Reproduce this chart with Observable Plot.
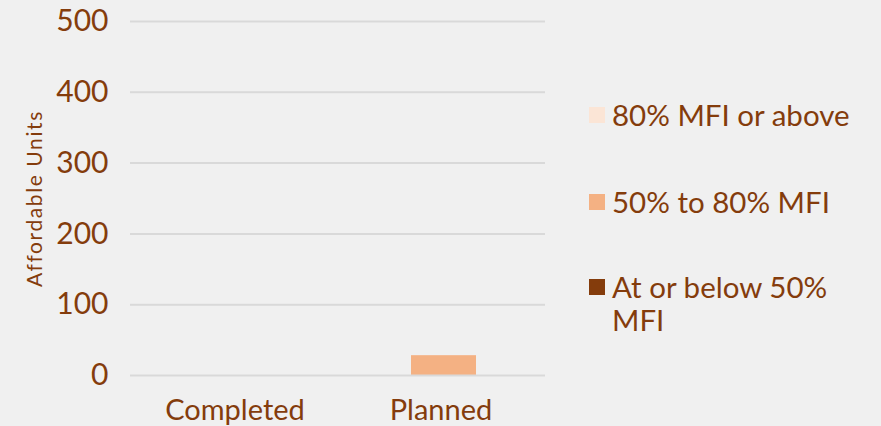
<!DOCTYPE html>
<html>
<head>
<meta charset="utf-8">
<script src="https://cdn.jsdelivr.net/npm/d3@7"></script>
<script src="https://cdn.jsdelivr.net/npm/@observablehq/plot@0.6"></script>
<style>
  html, body { margin: 0; padding: 0; background: #f0f0f0; }
  #wrap { position: relative; width: 881px; height: 426px; overflow: hidden; font-family: Lato, sans-serif; color: #843c0c; }
  #chart { position: absolute; left: 0; top: 0; }
  #chart svg g[aria-label="text"] text { letter-spacing: 1.6px; }
  #legend { position: absolute; left: 589px; top: 0; width: 290px; }
  .item { position: absolute; left: 0; display: flex; align-items: flex-start; font-size: 29.5px; line-height: 33px; }
  .sw { width: 16px; height: 16px; margin-top: 9px; margin-right: 7px; flex: none; }
</style>
</head>
<body>
<div id="wrap">
  <div id="chart"></div>
  <div id="legend"></div>
</div>
<script>
const categories = ["Completed", "Planned"];
const seriesNames = ["At or below 50% MFI", "50% to 80% MFI", "80% MFI or above"];
const seriesColors = ["#843c0c", "#f4b183", "#fbe5d6"];
const atOrBelow50 = [0, 0];
const from50to80 = [0, 28];
const above80 = [0, 0];
const yTicks = [0, 100, 200, 300, 400, 500];
const yLabel = "Affordable Units";
const legendOrder = ["80% MFI or above", "50% to 80% MFI", "At or below 50% MFI"];

const seriesValues = [atOrBelow50, from50to80, above80];
const data = [];
categories.forEach((c, i) => {
  seriesNames.forEach((s, j) => {
    data.push({category: c, series: s, value: seriesValues[j][i]});
  });
});

const brown = "#843c0c";
const plot = Plot.plot({
  width: 575,
  height: 426,
  marginLeft: 130,
  marginRight: 30,
  marginTop: 21,
  marginBottom: 51,
  style: {background: "transparent", fontFamily: "Lato, sans-serif", color: brown},
  x: {domain: categories, paddingInner: 0.685, paddingOuter: 0.347, align: 0.52, label: null},
  y: {domain: [0, 500], ticks: yTicks, label: null},
  color: {domain: seriesNames, range: seriesColors},
  marks: [
    Plot.ruleY(yTicks.filter(t => t > 0), {stroke: "#d9d9d9", strokeWidth: 2}),
    Plot.barY(data, {x: "category", y: "value", fill: "series", order: seriesNames}),
    Plot.ruleY([0], {stroke: "#d9d9d9", strokeWidth: 2}),
    Plot.axisY({ticks: yTicks, tickSize: 0, tickPadding: 22, fontSize: 30, fill: brown, label: null}),
    Plot.axisX({tickSize: 0, tickPadding: 24, fontSize: 29, fill: brown, label: null, dx: -3}),
    Plot.text([yLabel], {frameAnchor: "left", textAnchor: "middle", dx: -95, dy: 0, rotate: -90, fontSize: 21, fill: brown, text: d => d})
  ]
});
document.getElementById("chart").appendChild(plot);

const legend = document.getElementById("legend");
const tops = [98, 185, 270];
legendOrder.forEach((name, i) => {
  const div = document.createElement("div");
  div.className = "item";
  div.style.top = tops[i] + "px";
  const sw = document.createElement("span");
  sw.className = "sw";
  sw.style.background = seriesColors[seriesNames.indexOf(name)];
  const t = document.createElement("span");
  t.textContent = name;
  t.style.width = "250px";
  div.appendChild(sw);
  div.appendChild(t);
  legend.appendChild(div);
});
</script>
</body>
</html>
